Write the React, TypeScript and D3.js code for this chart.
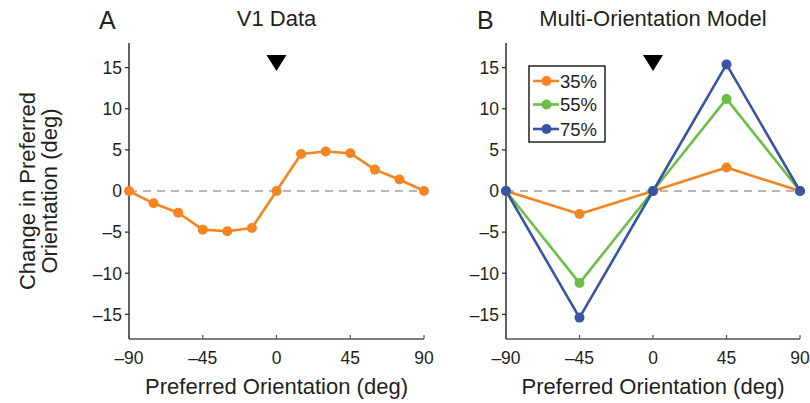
import React from "react";
import * as d3 from "d3";

const xTicks = [-90, -45, 0, 45, 90];
const yTicks = [-15, -10, -5, 0, 5, 10, 15];

const v1Orient = [-90, -75, -60, -45, -30, -15, 0, 15, 30, 45, 60, 75, 90];
const v1Shift = [0, -1.5, -2.65, -4.7, -4.9, -4.5, 0, 4.5, 4.8, 4.6, 2.6, 1.4, 0];

const modelOrient = [-90, -45, 0, 45, 90];
const model35 = [0, -2.8, 0, 2.85, 0];
const model55 = [0, -11.2, 0, 11.2, 0];
const model75 = [0, -15.4, 0, 15.4, 0];
const seriesLabels = ["35%", "55%", "75%"];
const seriesColors = ["#F58422", "#6DBE45", "#3A54A4"];

const FONT = "'Liberation Sans', Arial, Helvetica, sans-serif";
const TXT = "#231F20";

const W = 810;
const H = 403;
const yTop = 43;
const yBottom = 339;

type Series = { values: number[]; color: string };

function fmt(t: number) {
  return t < 0 ? "\u2013" + Math.abs(t) : String(t);
}

function Panel({ x0, x1, letter, letterX, title, xs, series, showYLabel }: {
  x0: number; x1: number; letter: string; letterX: number; title: string;
  xs: number[]; series: Series[]; showYLabel: boolean;
}) {
  const x = d3.scaleLinear().domain([-90, 90]).range([x0, x1]);
  const y = d3.scaleLinear().domain([-18, 18]).range([yBottom, yTop]);
  const line = d3.line<number>().x((_, i) => x(xs[i])).y((v) => y(v));
  const cx = (x0 + x1) / 2;
  const tx = x(0);
  return (
    <g fontFamily={FONT}>
      <text x={letterX} y={29} fontSize={25} fill={TXT}>{letter}</text>
      <text x={cx} y={26} fontSize={22} textAnchor="middle" fill={TXT}>{title}</text>
      <line x1={x0} x2={x1} y1={y(0)} y2={y(0)} stroke="#a0a0a0" strokeWidth={1.3} strokeDasharray="8,6" />
      <line x1={x0} x2={x0} y1={yTop} y2={yBottom} stroke="#222" strokeWidth={1.4} />
      <line x1={x0} x2={x1} y1={yBottom} y2={yBottom} stroke="#555" strokeWidth={1.4} />
      {yTicks.map((t) => (
        <g key={"y" + t}>
          <line x1={x0 - 4} x2={x0} y1={y(t)} y2={y(t)} stroke="#222" strokeWidth={1.2} />
          <text x={x0 - 7} y={y(t)} dy="0.36em" fontSize={17.5} textAnchor="end" fill={TXT}>{fmt(t)}</text>
        </g>
      ))}
      {xTicks.map((t) => (
        <g key={"x" + t}>
          <line x1={x(t)} x2={x(t)} y1={yBottom} y2={yBottom - 4} stroke="#555" strokeWidth={1.2} />
          <text x={x(t)} y={364} fontSize={17.5} textAnchor="middle" fill={TXT}>{fmt(t)}</text>
        </g>
      ))}
      <text x={cx} y={394} fontSize={22} textAnchor="middle" fill={TXT}>Preferred Orientation (deg)</text>
      {showYLabel && (
        <g transform={`translate(0, ${(yTop + yBottom) / 2})`}>
          <text transform="translate(35,0) rotate(-90)" fontSize={22} textAnchor="middle" fill={TXT}>Change in Preferred</text>
          <text transform="translate(57,0) rotate(-90)" fontSize={22} textAnchor="middle" fill={TXT}>Orientation (deg)</text>
        </g>
      )}
      <path d={`M${tx - 10},55 L${tx + 10},55 L${tx},71 Z`} fill="#000" />
      {series.map((s, si) => (
        <g key={si}>
          <path d={line(s.values) || ""} fill="none" stroke={s.color} strokeWidth={2.6} strokeLinejoin="round" />
          {s.values.map((v, i) => (
            <circle key={i} cx={x(xs[i])} cy={y(v)} r={5} fill={s.color} />
          ))}
        </g>
      ))}
    </g>
  );
}

export default function App() {
  const modelSeries = [model35, model55, model75].map((values, i) => ({ values, color: seriesColors[i] }));
  const legendY = [81, 104.5, 129];
  return (
    <svg width={W} height={H} style={{ position: "absolute", left: 0, top: 0, background: "#fff" }}>
      <rect width={W} height={H} fill="#fff" />
      <Panel x0={129} x1={424} letter="A" letterX={99} title="V1 Data" xs={v1Orient}
        series={[{ values: v1Shift, color: seriesColors[0] }]} showYLabel={true} />
      <Panel x0={506} x1={800} letter="B" letterX={477} title="Multi-Orientation Model" xs={modelOrient}
        series={modelSeries} showYLabel={false} />
      <g fontFamily={FONT}>
        <rect x={529} y={66} width={76} height={76} fill="#fff" stroke="#000" strokeWidth={1.3} />
        {seriesLabels.map((lab, i) => (
          <g key={lab}>
            <line x1={533} x2={559} y1={legendY[i]} y2={legendY[i]} stroke={seriesColors[i]} strokeWidth={2.6} />
            <circle cx={546.5} cy={legendY[i]} r={5} fill={seriesColors[i]} />
            <text x={560} y={legendY[i]} dy="0.36em" fontSize={18.5} fill={TXT}>{lab}</text>
          </g>
        ))}
      </g>
    </svg>
  );
}
